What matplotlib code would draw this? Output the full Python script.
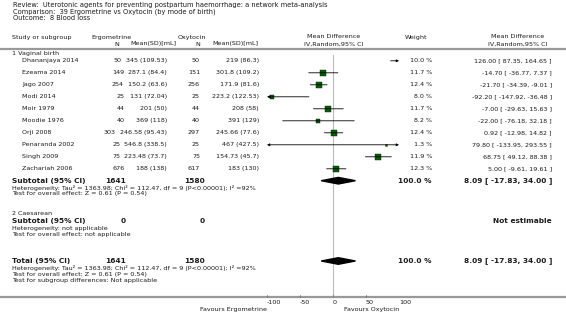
import matplotlib
matplotlib.use('Agg')
import matplotlib.pyplot as plt
from matplotlib.patches import Polygon

studies = ['Dhananjaya 2014', 'Ezeama 2014', 'Jago 2007', 'Modi 2014', 'Moir 1979',
           'Moodie 1976', 'Orji 2008', 'Penaranda 2002', 'Singh 2009', 'Zachariah 2006']
ergo_n = [50, 149, 254, 25, 44, 40, 303, 25, 75, 676]
ergo_mean = [345, 287.1, 150.2, 131, 201, 369, 246.58, 546.8, 223.48, 188]
ergo_sd = [109.53, 84.4, 63.6, 72.04, 50, 118, 95.43, 338.5, 73.7, 138]
oxy_n = [50, 151, 256, 25, 44, 40, 297, 25, 75, 617]
oxy_mean = [219, 301.8, 171.9, 223.2, 208, 391, 245.66, 467, 154.73, 183]
oxy_sd = [86.3, 109.2, 81.6, 122.53, 58, 129, 77.6, 427.5, 45.7, 130]
weight = [10.0, 11.7, 12.4, 8.0, 11.7, 8.2, 12.4, 1.3, 11.9, 12.3]
md = [126.00, -14.70, -21.70, -92.20, -7.00, -22.00, 0.92, 79.80, 68.75, 5.00]
md_lo = [87.35, -36.77, -34.39, -147.92, -29.63, -76.18, -12.98, -133.95, 49.12, -9.61]
md_hi = [164.65, 7.37, -9.01, -36.48, 15.63, 32.18, 14.82, 293.55, 88.38, 19.61]
pooled = [8.09, -17.83, 34.00]
total_n = [1641, 1580]
het_text = 'Heterogeneity: Tau\u00b2 = 1363.98; Chi\u00b2 = 112.47, df = 9 (P<0.00001); I\u00b2 =92%'
effect_text = 'Test for overall effect: Z = 0.61 (P = 0.54)'
ticks = [-100, -50, 0, 50, 100]

W, H = 566, 320
fig = plt.figure(figsize=(W / 100, H / 100), dpi=100)
fig.patch.set_facecolor('white')

# background axes in pixel units for the table text
bg = fig.add_axes([0, 0, 1, 1])
bg.set_xlim(0, W)
bg.set_ylim(H, 0)
bg.axis('off')

# forest axes: x in mean difference units, y in pixel rows
x0, x1 = 267, 399
ax = fig.add_axes([x0 / W, 0, (x1 - x0) / W, 1])
ax.set_xlim(-100, 100)
ax.set_ylim(H, 0)
ax.axis('off')

tc = '#1a1a1a'
fs = 4.6
small = 4.55
title = 4.8
big = 5.3
green = '#0a5c0a'
renderer = fig.canvas.get_renderer()


def t(x, y, s, size=fs, ha='left', bold=False):
    return bg.text(x, y, s, fontsize=size, ha=ha, va='center', color=tc,
                   fontweight='bold' if bold else 'normal', family='DejaVu Sans')


def left_px(txt):
    # left edge of a text in background pixel units
    ext = txt.get_window_extent(renderer=renderer)
    return ext.x0


# header
t(13, 5.5, 'Review:  Uterotonic agents for preventing postpartum haemorrhage: a network meta-analysis', title)
t(13, 12, 'Comparison:  39 Ergometrine vs Oxytocin (by mode of birth)', title)
t(13, 18.5, 'Outcome:  8 Blood loss', title)

t(12, 38, 'Study or subgroup')
t(91, 37, 'Ergometrine')
t(178, 37, 'Oxytocin')
t(117, 44, 'N', ha='center')
t(176, 44, 'Mean(SD)[mL]', ha='right')
t(198, 44, 'N', ha='center')
t(258, 44, 'Mean(SD)[mL]', ha='right')
t(334, 37, 'Mean Difference', ha='center')
t(334, 44, 'IV,Random,95% CI', ha='center')
t(416, 37, 'Weight', ha='center')
t(518, 37, 'Mean Difference', ha='center')
t(518, 44, 'IV,Random,95% CI', ha='center')
bg.plot([0, W], [48.5, 48.5], color='#999999', lw=1.6, solid_capstyle='butt')

# study rows
t(12, 54, '1 Vaginal birth')
rows = [60.8 + 12.0 * i for i in range(len(studies))]
for i, y in enumerate(rows):
    t(22, y, studies[i])
    m = t(167, y, f'{ergo_mean[i]:g} ({ergo_sd[i]:g})', ha='right')
    t(min(125, left_px(m) - 4), y, str(ergo_n[i]), ha='right')
    m = t(259, y, f'{oxy_mean[i]:g} ({oxy_sd[i]:g})', ha='right')
    t(min(200, left_px(m) - 4), y, str(oxy_n[i]), ha='right')
    t(432, y, f'{weight[i]:.1f} %', ha='right')
    t(552, y, f'{md[i]:.2f} [ {md_lo[i]:.2f}, {md_hi[i]:.2f} ]', ha='right')

ax.plot([0, 0], [55, 297], color='#bbbbbb', lw=0.8, zorder=0)

for i, y in enumerate(rows):
    lo = max(md_lo[i], -100)
    hi = min(md_hi[i], 100)
    if md_lo[i] < -100 and md_hi[i] > 100:
        style = '<|-|>'
    elif md_lo[i] < -100:
        style = '<|-'
    elif md_hi[i] > 100:
        style = '-|>'
    else:
        style = '-'
    ax.annotate('', xy=(hi, y), xytext=(lo, y),
                arrowprops=dict(arrowstyle=style, lw=0.6, color='black',
                                mutation_scale=3.5, shrinkA=0, shrinkB=0))
    if -100 <= md[i] <= 100:
        ms = 1.15 * weight[i] ** 0.5
        ax.plot(md[i], y, marker='s', ms=ms, color=green, mec='#002200', mew=0.3)


def diamond(est, lo, hi, y):
    ax.add_patch(Polygon([(lo, y), (est, y - 3.3), (hi, y), (est, y + 3.3)],
                         closed=True, color='black'))


# subtotal vaginal birth
ysub = 180.7
t(12, ysub, 'Subtotal (95% CI)', big, bold=True)
t(126, ysub, str(total_n[0]), big, ha='right', bold=True)
t(205, ysub, str(total_n[1]), big, ha='right', bold=True)
t(432, ysub, '100.0 %', big, ha='right', bold=True)
t(552, ysub, f'{pooled[0]:.2f} [ {pooled[1]:.2f}, {pooled[2]:.2f} ]', big, ha='right', bold=True)
diamond(pooled[0], pooled[1], pooled[2], ysub)
t(12, 187.7, het_text, small)
t(12, 194, effect_text, small)

# caesarean
t(12, 213.3, '2 Caesarean')
t(12, 221, 'Subtotal (95% CI)', big, bold=True)
t(126, 221, '0', big, ha='right', bold=True)
t(205, 221, '0', big, ha='right', bold=True)
t(552, 221, 'Not estimable', big, ha='right', bold=True)
t(12, 228.3, 'Heterogeneity: not applicable', small)
t(12, 234.5, 'Test for overall effect: not applicable', small)

# total
ytot = 261
t(12, ytot, 'Total (95% CI)', big, bold=True)
t(126, ytot, str(total_n[0]), big, ha='right', bold=True)
t(205, ytot, str(total_n[1]), big, ha='right', bold=True)
t(432, ytot, '100.0 %', big, ha='right', bold=True)
t(552, ytot, f'{pooled[0]:.2f} [ {pooled[1]:.2f}, {pooled[2]:.2f} ]', big, ha='right', bold=True)
diamond(pooled[0], pooled[1], pooled[2], ytot)
t(12, 268, het_text, small)
t(12, 274.5, effect_text, small)
t(12, 280.7, 'Test for subgroup differences: Not applicable', small)

# bottom scale
bg.plot([0, W], [297, 297], color='#999999', lw=1.6, solid_capstyle='butt')
for v in ticks:
    ax.plot([v, v], [294.5, 297], color='#666666', lw=0.5)
    ax.text(v, 302, f'{v}', fontsize=small, ha='left', va='center', color=tc)
ax.text(-100, 310, 'Favours Ergometrine', fontsize=small, ha='right', va='center', color=tc)
ax.text(100, 310, 'Favours Oxytocin', fontsize=small, ha='right', va='center', color=tc)

fig.savefig('out.png', dpi=100, facecolor='white')
